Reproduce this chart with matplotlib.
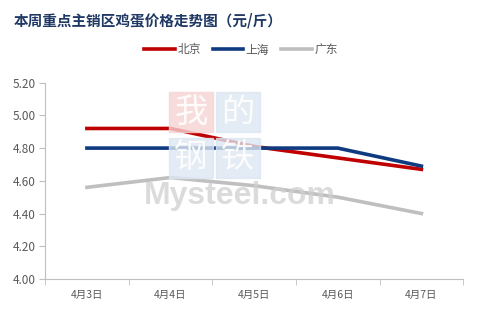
import matplotlib.pyplot as plt
from matplotlib.patches import Rectangle
import numpy as np

plt.rcParams['font.family'] = ['Noto Sans CJK SC', 'DejaVu Sans']

dates = ['4月3日', '4月4日', '4月5日', '4月6日', '4月7日']
beijing = [4.92, 4.92, 4.81, 4.74, 4.67]
shanghai = [4.80, 4.80, 4.80, 4.80, 4.69]
guangdong = [4.56, 4.62, 4.57, 4.50, 4.40]
yticks = [4.00, 4.20, 4.40, 4.60, 4.80, 5.00, 5.20]

fig = plt.figure(figsize=(4.8, 3.12), dpi=100)
ax = fig.add_axes([0.094, 0.106, 0.871, 0.629])

x = np.arange(len(dates))
ax.plot(x, beijing, color='#C00000', lw=2.6, label='北京', zorder=3)
ax.plot(x, shanghai, color='#0E3A80', lw=2.6, label='上海', zorder=3)
ax.plot(x, guangdong, color='#BFBFBF', lw=2.6, label='广东', zorder=3)

ax.set_xlim(-0.5, len(dates) - 0.5)
ax.set_ylim(4.0, 5.2)
ax.set_yticks(yticks)
ax.set_yticklabels([f'{v:.2f}' for v in yticks])
ax.set_xticks(x)
ax.set_xticklabels(dates)
ax.set_xticks(np.arange(-0.5, len(dates)), minor=True)

for s in ['top', 'right']:
    ax.spines[s].set_visible(False)
for s in ['left', 'bottom']:
    ax.spines[s].set_color('#BFBFBF')
    ax.spines[s].set_linewidth(0.8)
ax.tick_params(axis='y', length=4, color='#BFBFBF', labelsize=8.5,
               labelcolor='#595959', pad=3)
ax.tick_params(axis='x', which='major', length=0, labelsize=7.5,
               labelcolor='#595959', pad=8)
ax.tick_params(axis='x', which='minor', length=4, color='#BFBFBF')

# watermark
wm = [('我', 169, 92, '#F7D4D4'), ('的', 216, 92, '#DCE6F2'),
      ('钢', 169, 138, '#DCE6F2'), ('铁', 216, 138, '#DCE6F2')]
for ch, px, py, bc in wm:
    fig.patches.append(Rectangle((px / 480, 1 - (py + 40) / 312), 44 / 480, 40 / 312,
                                 transform=fig.transFigure, color=bc, alpha=0.8, zorder=1))
    fig.text((px + 22) / 480, 1 - (py + 20) / 312, ch, ha='center', va='center',
             fontsize=24, color='white', alpha=0.9, zorder=2)
fig.text(240 / 480, 1 - 196 / 312, 'Mysteel.com', ha='center', va='center',
         fontsize=23, color='#D0D0D0', alpha=0.75, fontweight='bold', zorder=2,
         family='Liberation Sans')

fig.text(14 / 480, 1 - 20 / 312, '本周重点主销区鸡蛋价格走势图（元/斤）',
         fontsize=10.5, fontweight='bold', color='#1F3864', va='center')

fig.legend(loc='center', bbox_to_anchor=(241 / 480, 1 - 50 / 312), ncol=3,
           frameon=False, fontsize=8.5, handlelength=2.6, handletextpad=0.2,
           columnspacing=1.0, labelcolor='#595959')

fig.savefig('out.png', dpi=100)
